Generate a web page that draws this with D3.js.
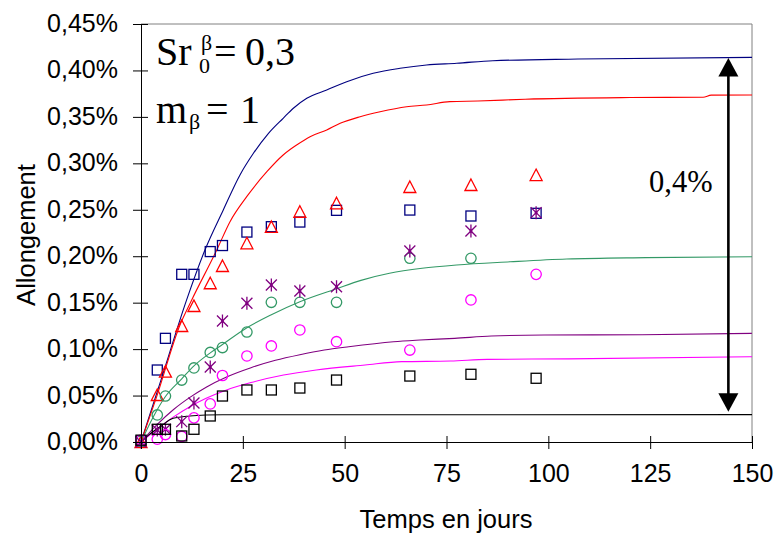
<!DOCTYPE html>
<html><head><meta charset="utf-8">
<script src="https://cdn.jsdelivr.net/npm/d3@7"></script>
<style>
html,body{margin:0;padding:0;background:#fff;}
svg{display:block;}
</style></head>
<body><svg id="c" width="776" height="536"></svg>
<script>
// ---- tick labels ----
const xTicks = [0, 25, 50, 75, 100, 125, 150];
const yTicks = [0, 0.05, 0.10, 0.15, 0.20, 0.25, 0.30, 0.35, 0.40, 0.45];

// ---- measurement days (markers) ----
const days = [0, 4, 6, 10, 13, 17, 20, 26, 32, 39, 48, 66, 81, 97];
const squaresBlue = [0.001, 0.0775, 0.1116, 0.1805, 0.1805, 0.205, 0.2115, 0.226, 0.2318, 0.2368, 0.2494, 0.2497, 0.2433, 0.2462];
const trianglesRed = [0, 0.0506, 0.0757, 0.1249, 0.1464, 0.1709, 0.1895, 0.2139, 0.2315, 0.2479, 0.257, 0.2745, 0.2767, 0.2874];
const circlesGreen = [0.001, 0.0291, 0.0495, 0.0667, 0.0797, 0.0964, 0.1017, 0.1184, 0.1504, 0.1504, 0.1504, 0.1978, 0.1978];
const starsPurple = [0, 0.0129, 0.0137, 0.0219, 0.042, 0.0807, 0.1303, 0.1493, 0.169, 0.1626, 0.1672, 0.2056, 0.2272, 0.2469];
const circlesMagenta = [0.002, 0.003, 0.008, 0.006, 0.026, 0.041, 0.0716, 0.0926, 0.1034, 0.1206, 0.108, 0.099, 0.1529, 0.1805];
const squaresBlack = [0.002, 0.0137, 0.0137, 0.0065, 0.0137, 0.028, 0.0495, 0.056, 0.056, 0.0581, 0.0667, 0.071, 0.0729, 0.0686];

// ---- model curves ----
const blueT = [0, 5, 11.2, 15.7, 20.2, 24.3, 27.6, 31.3, 34.9, 37.4, 40.7, 45.6, 50.5, 57, 63.6, 70.1, 77.5, 86.4, 107.3, 150];
const blueV = [0, 0.068, 0.153, 0.2067, 0.2498, 0.2875, 0.3108, 0.3323, 0.3485, 0.3593, 0.37, 0.379, 0.3879, 0.3969, 0.4023, 0.4059, 0.4077, 0.4105, 0.4123, 0.4141];
const redT = [0, 3.85, 9.57, 12.45, 18.6, 21.85, 25.95, 30.9, 34.9, 38.2, 41.5, 45.6, 48.9, 53.8, 58.7, 65.2, 70.1, 75.8, 82.7, 94.3, 120, 138, 140, 150];
const redV = [0, 0.0488, 0.126, 0.1529, 0.2067, 0.2372, 0.2641, 0.291, 0.309, 0.3197, 0.3287, 0.3359, 0.3431, 0.3502, 0.3556, 0.361, 0.3628, 0.3664, 0.3671, 0.369, 0.3708, 0.3712, 0.3734, 0.3736];
const greenT = [0, 3, 6, 10, 13, 17, 20, 26, 32, 39, 48, 54, 61, 69, 77.5, 90.6, 104.5, 124, 150];
const greenV = [0, 0.027, 0.049, 0.068, 0.082, 0.096, 0.105, 0.123, 0.137, 0.151, 0.165, 0.174, 0.1816, 0.187, 0.1906, 0.194, 0.197, 0.1985, 0.1995];
const purpleT = [0, 4, 8, 12, 16, 21, 27, 33, 39, 45, 51, 62, 68.5, 77, 86, 99, 123, 150];
const purpleV = [0, 0.019, 0.035, 0.048, 0.059, 0.070, 0.080, 0.088, 0.094, 0.099, 0.1026, 0.108, 0.1098, 0.1116, 0.1141, 0.1152, 0.1155, 0.117];
const magentaT = [0, 4, 8, 12, 16, 21, 27, 35, 43, 55, 64, 76, 85, 105, 150];
const magentaV = [0, 0.014, 0.027, 0.038, 0.047, 0.056, 0.064, 0.0721, 0.0775, 0.0829, 0.0865, 0.0872, 0.089, 0.0895, 0.0918];
const blackT = [0, 2, 4.7, 7.9, 12, 16, 20, 150];
const blackV = [0, 0.008, 0.0165, 0.0255, 0.028, 0.029, 0.0293, 0.0295];

// ---- annotation ----
const arrowDay = 144.2;
const arrowTop = 0.4135;
const arrowBottom = 0.0325;

const svg = d3.select("#c");
const x = d3.scaleLinear().domain([0, 150]).range([141, 752]);
const y = d3.scaleLinear().domain([0, 0.45]).range([442, 24]);
const SANS = "'Liberation Sans', Arial, sans-serif";
const SERIF = "'Liberation Serif', 'Times New Roman', serif";

// plot frame (top and right)
svg.append("path")
  .attr("d", `M${x(0)},${y(0.45)}H${x(150)}V${y(0)}`)
  .attr("fill", "none").attr("stroke", "#808080").attr("stroke-width", 1);

// curves
const line = d3.line().x(d => x(d[0])).y(d => y(d[1])).curve(d3.curveMonotoneX);
const curves = [
  [blueT, blueV, "#000080"],
  [redT, redV, "#FF0000"],
  [greenT, greenV, "#339966"],
  [purpleT, purpleV, "#800080"],
  [magentaT, magentaV, "#FF00FF"],
  [blackT, blackV, "#000000"]
];
curves.forEach(([T, V, c]) => {
  svg.append("path").datum(T.map((t, i) => [t, V[i]]))
    .attr("d", line).attr("fill", "none").attr("stroke", c).attr("stroke-width", 1.1);
});

// markers
function pts(vals) { return vals.map((v, i) => [days[i], v]); }
const sw = 1.3;
function squares(vals, color) {
  svg.append("g").selectAll("rect").data(pts(vals)).join("rect")
    .attr("x", d => x(d[0]) - 5).attr("y", d => y(d[1]) - 5)
    .attr("width", 10).attr("height", 10)
    .attr("fill", "none").attr("stroke", color).attr("stroke-width", sw);
}
function circles(vals, color) {
  svg.append("g").selectAll("circle").data(pts(vals)).join("circle")
    .attr("cx", d => x(d[0])).attr("cy", d => y(d[1])).attr("r", 5.2)
    .attr("fill", "none").attr("stroke", color).attr("stroke-width", sw);
}
function triangles(vals, color) {
  svg.append("g").selectAll("path").data(pts(vals)).join("path")
    .attr("d", d => `M${x(d[0])},${y(d[1]) - 6}l6,11.5h-12z`)
    .attr("fill", "none").attr("stroke", color).attr("stroke-width", sw);
}
function stars(vals, color) {
  const g = svg.append("g");
  g.selectAll("path").data(pts(vals)).join("path")
    .attr("d", d => {
      const cx = x(d[0]), cy = y(d[1]);
      return `M${cx - 5.5},${cy - 5.5}L${cx + 5.5},${cy + 5.5}M${cx - 5.5},${cy + 5.5}L${cx + 5.5},${cy - 5.5}M${cx},${cy - 6.5}L${cx},${cy + 6.5}`;
    })
    .attr("fill", "none").attr("stroke", color).attr("stroke-width", sw);
  g.selectAll("circle").data(pts(vals)).join("circle")
    .attr("cx", d => x(d[0])).attr("cy", d => y(d[1])).attr("r", 1.5).attr("fill", color);
}
squares(squaresBlue, "#000080");
triangles(trianglesRed, "#FF0000");
circles(circlesGreen, "#339966");
stars(starsPurple, "#800080");
circles(circlesMagenta, "#FF00FF");
squares(squaresBlack, "#000000");

// axes
const fmt = v => d3.format(".2f")(v).replace(".", ",") + "%";
const yAxis = svg.append("g").attr("transform", `translate(${x(0)},0)`)
  .call(d3.axisLeft(y).tickValues(yTicks).tickSizeInner(8).tickSizeOuter(0).tickPadding(15).tickFormat(fmt));
yAxis.selectAll(".tick line").attr("x1", 7).attr("stroke", "#000");
yAxis.select(".domain").attr("stroke", "#000");
yAxis.selectAll("text").attr("font-family", SANS).attr("font-size", 25).attr("dy", "0.3em").attr("fill", "#000");

const xAxis = svg.append("g").attr("transform", `translate(0,${y(0)})`)
  .call(d3.axisBottom(x).tickValues(xTicks).tickSizeInner(7).tickSizeOuter(0).tickFormat(d3.format("d")));
xAxis.selectAll(".tick line").attr("y1", -6).attr("stroke", "#000");
xAxis.select(".domain").attr("stroke", "#000");
xAxis.selectAll("text").attr("font-family", SANS).attr("font-size", 25).attr("y", 40).attr("dy", 0).attr("fill", "#000");

// axis titles
svg.append("text").attr("x", 446).attr("y", 528).attr("text-anchor", "middle")
  .attr("font-family", SANS).attr("font-size", 25.5).text("Temps en jours");
svg.append("text").attr("transform", "translate(35,235) rotate(-90)").attr("text-anchor", "middle")
  .attr("font-family", SANS).attr("font-size", 25.5).text("Allongement");

// arrow annotation
const ax = x(arrowDay), at = y(arrowTop), ab = y(arrowBottom);
svg.append("line").attr("x1", ax).attr("x2", ax).attr("y1", at + 10).attr("y2", ab - 10)
  .attr("stroke", "#000").attr("stroke-width", 2.6);
svg.append("path").attr("d", `M${ax},${at}l10,18.5h-20z`).attr("fill", "#000");
svg.append("path").attr("d", `M${ax},${ab}l10,-18.5h-20z`).attr("fill", "#000");
svg.append("text").attr("x", 649).attr("y", 192).attr("font-family", SERIF).attr("font-size", 30.5).text("0,4%");

// parameter formulas
const f1 = svg.append("g").attr("font-family", SERIF).attr("fill", "#000");
f1.append("text").attr("x", 156).attr("y", 65).attr("font-size", 40).text("Sr");
f1.append("text").attr("x", 201).attr("y", 50).attr("font-size", 22).text("β");
f1.append("text").attr("x", 199).attr("y", 73).attr("font-size", 22).text("0");
f1.append("text").attr("x", 214).attr("y", 65).attr("font-size", 40).text("=");
f1.append("text").attr("x", 245).attr("y", 65).attr("font-size", 40).text("0,");
f1.append("text").attr("x", 275).attr("y", 65).attr("font-size", 40).text("3");
f1.append("text").attr("x", 156).attr("y", 123).attr("font-size", 40).text("m");
f1.append("text").attr("x", 189).attr("y", 129).attr("font-size", 22).text("β");
f1.append("text").attr("x", 206).attr("y", 123).attr("font-size", 40).text("=");
f1.append("text").attr("x", 240).attr("y", 123).attr("font-size", 40).text("1");
</script></body></html>
